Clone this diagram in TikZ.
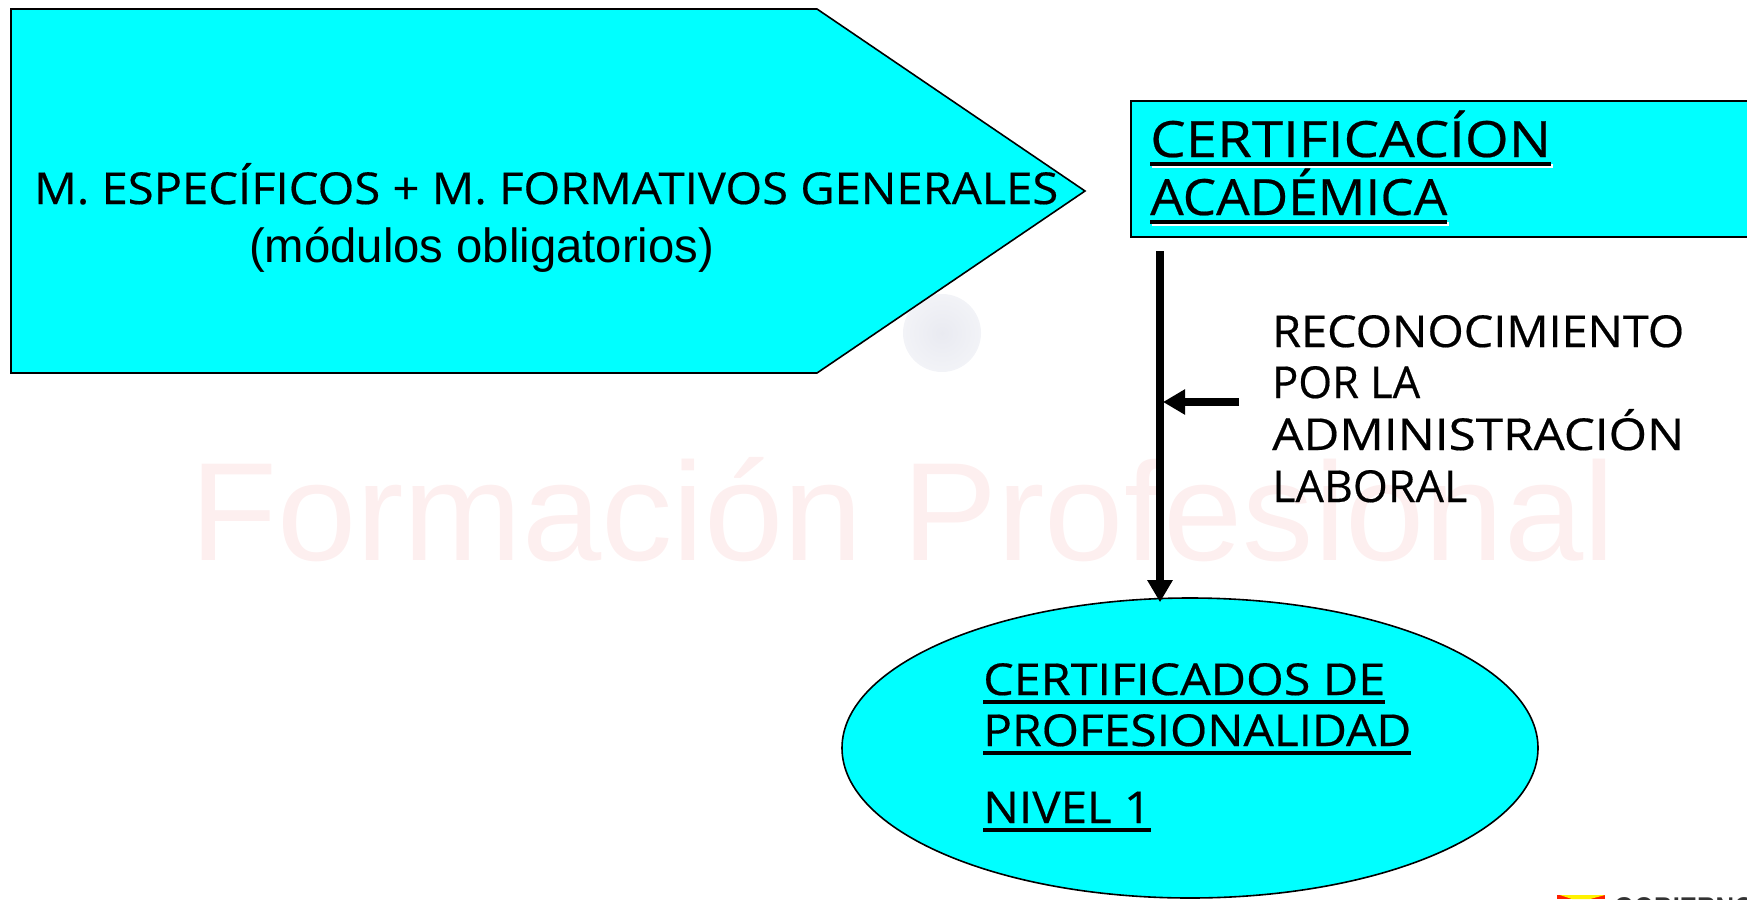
\documentclass[tikz,border=0pt]{standalone}
\usepackage{fontspec}
\usepackage{graphicx}
\setmainfont[FakeBold=0.4]{Open Sans}
\newfontfamily\arialf{Liberation Sans}
\usetikzlibrary{arrows.meta,shapes.geometric}
\definecolor{cyanfill}{HTML}{00FFFF}
\definecolor{wmpink}{HTML}{FDEFEF}
\definecolor{wmgrey}{HTML}{E9EAF1}
\definecolor{wmedge}{HTML}{F2F3F7}
\newcommand\fitw[2]{\resizebox{#1pt}{\height}{#2}}
\newsavebox\ulsave
\newcommand\ulfit[2]{\sbox\ulsave{\fitw{#1}{#2}}\rlap{\rule[-9pt]{#1pt}{4pt}}\usebox\ulsave}
\newcommand\ulshadow[2]{\sbox\ulsave{\fitw{#1}{#2}}\rlap{\kern1.5pt\textcolor{white}{\rule[-10.5pt]{#1pt}{4pt}}}\rlap{\rule[-9pt]{#1pt}{4pt}}\usebox\ulsave}
\tikzset{
  shapeline/.style={draw=black,line width=1.6pt,fill=cyanfill},
  lbl/.style={inner sep=0pt,anchor=base west,text=black},
  big/.style={lbl,font=\fontsize{44}{52}\selectfont},
  bigger/.style={lbl,font=\fontsize{50}{58}\selectfont},
  thickarrow/.style={line width=7.5pt,-{Triangle[width=24pt,length=22pt]}}
}
\begin{document}
\begin{tikzpicture}[x=1pt,y=-1pt]
\useasboundingbox (0,0) rectangle (1747,899);
\clip (0,0) rectangle (1747,899);
% watermark
\node (wm) [lbl,text=wmpink,font=\arialf\fontsize{140}{140}\selectfont] at (190,560) {\fitw{1425}{Formación Profesional}};
\shade[inner color=wmgrey,outer color=wmedge] (942,333) circle[radius=39];
% shapes
\draw[shapeline] (11,9) -- (817,9) -- (1085,191) -- (817,373) -- (11,373) -- cycle;
\node (pentlabel) [big] at (34,204) {\fitw{1024}{M. ESPECÍFICOS + M. FORMATIVOS GENERALES}};
\node (pentsub) [lbl,font=\arialf\fontsize{48}{52}\selectfont] at (249,262) {\fitw{465}{(módulos obligatorios)}};
\node (certbox) [shapeline,minimum width=640pt,minimum height=136pt,anchor=north west,inner sep=0pt] at (1130,100) {};
\node (certa) [bigger] at (1150,157) {\ulshadow{401}{CERTIFICACÍON}};
\node (certb) [bigger] at (1150,215) {\ulshadow{297}{ACADÉMICA}};
\node (oval) [ellipse,shapeline,minimum width=696pt,minimum height=300pt,inner sep=0pt] at (1190,748) {};
\node (cp1) [big] at (983,695) {\ulfit{402}{CERTIFICADOS DE}};
\node (cp2) [big] at (983,746) {\ulfit{428}{PROFESIONALIDAD}};
\node (cp3) [big] at (983,823) {\ulfit{168}{NIVEL 1}};
\node (rec1) [big] at (1272,347) {\fitw{412}{RECONOCIMIENTO}};
\node (rec2) [big] at (1272,398) {\fitw{148}{POR LA}};
\node (rec3) [big] at (1272,450) {\fitw{412}{ADMINISTRACIÓN}};
\node (rec4) [big] at (1272,502) {\fitw{195}{LABORAL}};
% arrows
\coordinate (vstart) at (1160,251);
\coordinate (hstart) at (1239,402);
\coordinate (hend) at (1163,402);
\draw[thickarrow,shorten >=-5pt] (vstart) -- (oval.north -| vstart);
\draw[thickarrow] (hstart) -- (hend);
% logo
\fill[red!75!orange] (1557,895) -- (1605,895) -- (1605,899) -- (1557,899) -- cycle;
\fill[yellow] (1560,895) -- (1605,895) -- (1590,899) -- (1572,899) -- cycle;
\node (logo) [lbl,anchor=north west,text=black!80,font=\arialf\bfseries\fontsize{30}{30}\selectfont] at (1614,897) {\fitw{140}{GOBIERNO}};
\end{tikzpicture}
\end{document}
